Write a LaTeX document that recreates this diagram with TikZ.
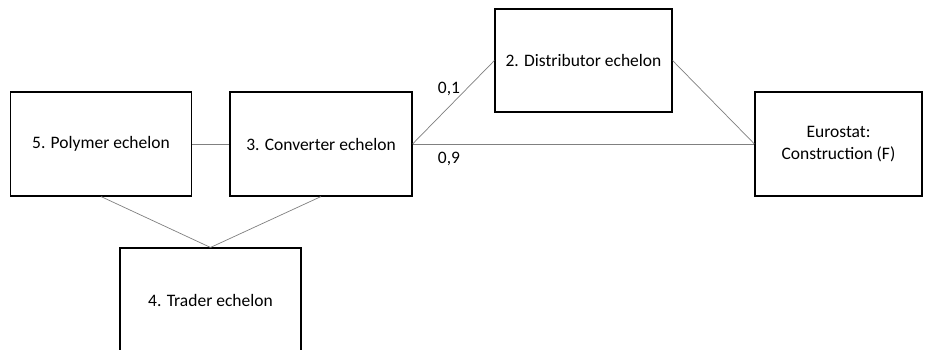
\documentclass[tikz,border=0pt]{standalone}
\usepackage{fontspec}
\setmainfont{Carlito}
\begin{document}
\begin{tikzpicture}[x=1pt,y=-1pt,
  boxn/.style={draw=black, line width=1.1pt, fill=white, inner sep=0pt, font=\fontsize{17.5}{22}\selectfont, align=center},
  link/.style={draw=black!50, line width=0.7pt},
  lbl/.style={font=\fontsize{17.5}{21}\selectfont}]
\clip (0,0) rectangle (935,350);
\fill[white] (0,0) rectangle (935,350);
\node[boxn, minimum width=181pt, minimum height=104pt] (p5) at (101,144) {5. Polymer echelon};
\node[boxn, minimum width=182pt, minimum height=104pt] (c3) at (321,144) {3. Converter echelon};
\node[boxn, minimum width=181pt, minimum height=104pt] (t4) at (210.5,300) {4. Trader echelon};
\node[boxn, minimum width=177pt, minimum height=103pt] (d2) at (583.5,60.5) {2. Distributor echelon};
\node[boxn, minimum width=167pt, minimum height=104pt] (eu) at (838.5,144) {Eurostat:\\Construction (F)};
\draw[link] (p5.east) -- (c3.east -| c3.west);
\draw[link] (p5.south) -- (t4.north);
\draw[link] (c3.south) -- (t4.north);
\draw[link] (c3.east) -- (d2.west);
\draw[link] (d2.east) -- (eu.west);
\draw[link] (c3.east) -- (eu.west);
\node[lbl] (l01) at (449,89) {0,1};
\node[lbl] (l09) at (449,159) {0,9};
\end{tikzpicture}
\end{document}
